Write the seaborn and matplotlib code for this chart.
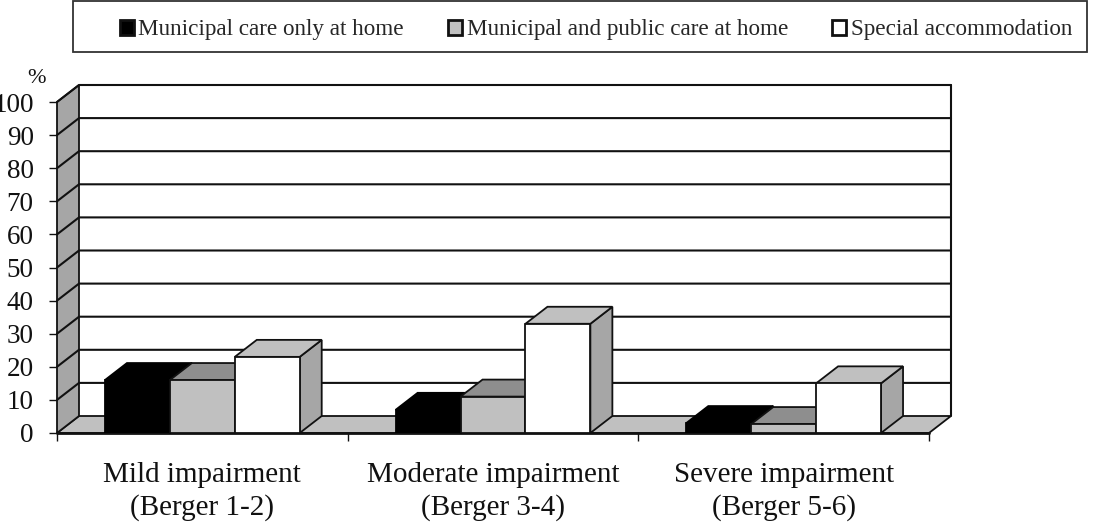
import pandas as pd
import matplotlib.pyplot as plt
import seaborn as sns
from matplotlib.patches import Polygon, Rectangle

# data
categories = ["Mild impairment\n(Berger 1-2)", "Moderate impairment\n(Berger 3-4)", "Severe impairment\n(Berger 5-6)"]
series_names = ["Municipal care only at home", "Municipal and public care at home", "Special accommodation"]
only_home = [16, 7, 3]
public_home = [16, 11, 2.7]
special = [23, 33, 15]
y_ticks = [0, 10, 20, 30, 40, 50, 60, 70, 80, 90, 100]

df = pd.DataFrame({
    "group": categories * 3,
    "care": [s for s in series_names for _ in categories],
    "pct": only_home + public_home + special,
})

sns.set_theme(style="white")
plt.rcParams["font.family"] = ["Liberation Serif", "DejaVu Serif"]

W, H = 1112, 522
fig = plt.figure(figsize=(W / 100, H / 100), dpi=100)
ax = fig.add_axes([57 / W, 1 - 433 / H, 872 / W, 331 / H])

sns.barplot(
    data=df, x="group", y="pct", hue="care",
    hue_order=series_names, order=categories,
    palette=["#000000", "#c0c0c0", "#ffffff"],
    width=0.67, gap=0, saturation=1, errorbar=None,
    edgecolor="#111111", linewidth=1.3, ax=ax,
)
ax.set_xlim(-0.5, 2.5)
ax.set_ylim(0, 100)

# 3d depth in data units
dx = 22 / (872 / 3)
dy = 17 / 3.31
line = "#111111"

# floor and side wall
ax.add_patch(Polygon([(-0.5, 0), (2.5, 0), (2.5 + dx, dy), (-0.5 + dx, dy)],
                     fc="#c0c0c0", ec=line, lw=1.3, clip_on=False, zorder=1))
ax.add_patch(Polygon([(-0.5, 0), (-0.5 + dx, dy), (-0.5 + dx, 100 + dy), (-0.5, 100)],
                     fc="#a6a6a6", ec=line, lw=1.3, clip_on=False, zorder=1))

# gridlines run along the side wall and the back wall
for t in y_ticks[1:]:
    ax.plot([-0.5, -0.5 + dx, 2.5 + dx], [t, t + dy, t + dy],
            color=line, lw=1.5, clip_on=False, zorder=1.5)
ax.plot([2.5 + dx, 2.5 + dx], [dy, 100 + dy], color=line, lw=1.5, clip_on=False, zorder=1.5)
ax.plot([-0.5, 2.5], [0, 0], color=line, lw=2, clip_on=False, zorder=1.6)

# top and side of each bar, left to right so neighbours overlap properly
top_colors = ["#000000", "#8e8e8e", "#c0c0c0"]
side_colors = ["#000000", "#8e8e8e", "#a6a6a6"]
for g in range(len(categories)):
    for s, cont in enumerate(ax.containers):
        bar = cont[g]
        x0, w, h = bar.get_x(), bar.get_width(), bar.get_height()
        z = 2 + g + s * 0.1
        edge = "#000000" if s == 0 else line
        ax.add_patch(Polygon([(x0 + w, 0), (x0 + w + dx, dy), (x0 + w + dx, h + dy), (x0 + w, h)],
                             fc=side_colors[s], ec=edge, lw=1.3, clip_on=False, zorder=z))
        ax.add_patch(Polygon([(x0, h), (x0 + w, h), (x0 + w + dx, h + dy), (x0 + dx, h + dy)],
                             fc=top_colors[s], ec=edge, lw=1.3, clip_on=False, zorder=z + 0.01))
        bar.set_zorder(z + 0.02)
        bar.set_edgecolor(edge)

sns.despine(ax=ax, left=True, bottom=True)
ax.set_xlabel("")
ax.set_ylabel("")
ax.set_yticks(y_ticks)
ax.set_xticks([-0.5, 0.5, 1.5, 2.5], minor=True)
ax.tick_params(axis="y", left=True, length=5.8, width=1, color=line, labelsize=19.5, pad=11, labelcolor="#111111")
ax.tick_params(axis="x", which="major", length=0, labelsize=21, pad=21, labelcolor="#111111")
ax.tick_params(axis="x", which="minor", bottom=True, length=6, width=1, color=line)
for lab in ax.get_xticklabels():
    lab.set_linespacing(1.3)

fig.text(37 / W, 1 - 79 / H, "%", fontsize=16, ha="center", va="center", color="#111111")

# legend box across the top, drawn under the axes so the legend stays visible
fig.add_artist(Rectangle((73 / W, 1 - 52 / H), 1014 / W, 51 / H, transform=fig.transFigure,
                         fc="white", ec="#333333", lw=1.3, zorder=-1))
handles, labels = ax.get_legend_handles_labels()
for hd in handles:
    hd.set_linewidth(2)
leg = ax.legend(
    handles, labels, ncol=3, loc="center",
    bbox_to_anchor=(596 / W, 1 - 30 / H), bbox_transform=fig.transFigure,
    fontsize=16.7, frameon=False, handlelength=0.6, handleheight=0.6,
    handletextpad=0.2, columnspacing=1.9, borderpad=0, borderaxespad=0,
)

plt.savefig("out.png", dpi=100)
